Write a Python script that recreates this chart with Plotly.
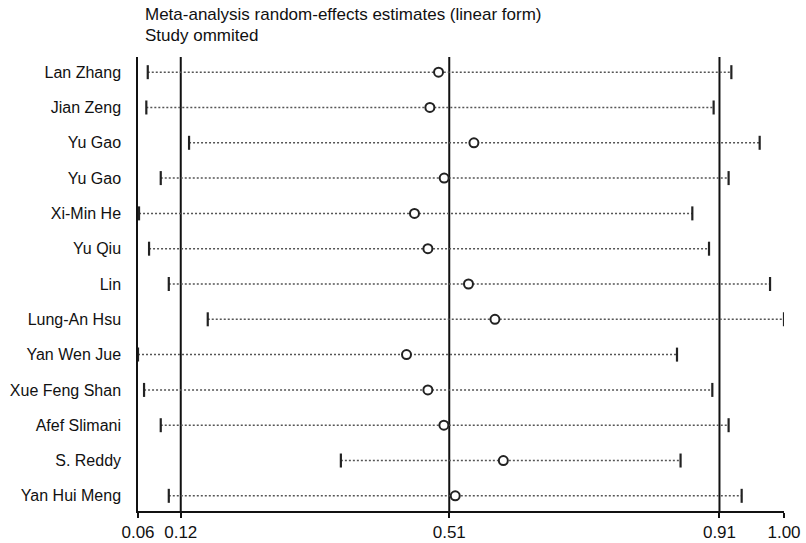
import plotly.graph_objects as go

studies = ["Lan Zhang", "Jian Zeng", "Yu Gao", "Yu Gao", "Xi-Min He", "Yu Qiu", "Lin",
           "Lung-An Hsu", "Yan Wen Jue", "Xue Feng Shan", "Afef Slimani", "S. Reddy", "Yan Hui Meng"]
lower = [0.0737, 0.0716, 0.1338, 0.0926, 0.0610, 0.0756, 0.1043,
         0.1610, 0.0595, 0.0683, 0.0926, 0.3547, 0.1043]
estimate = [0.4968, 0.4842, 0.5483, 0.5050, 0.4618, 0.4813, 0.5404,
            0.5789, 0.4502, 0.4813, 0.5046, 0.5911, 0.5211]
upper = [0.9229, 0.8971, 0.9641, 0.9189, 0.8661, 0.8904, 0.9792,
         0.9995, 0.8438, 0.8952, 0.9189, 0.8490, 0.9379]

overall_low, overall_est, overall_high = 0.1217, 0.5124, 0.9056

title_lines = ["Meta-analysis random-effects estimates (linear form)", "Study ommited"]

FONT = "Liberation Sans, Arial, Helvetica, sans-serif"
W, H = 806, 543
L, R, T, B = 138, 22, 57, 32
PH = H - T - B
PW = W - L - R

xmin, xmax = min(lower), max(upper)
tickvals = [xmin, overall_low, overall_est, overall_high, xmax]
ticktext = [f"{v:.2f}" for v in tickvals]

ypos = list(range(len(studies)))

fig = go.Figure()

# dotted CI lines
for i in ypos:
    fig.add_trace(go.Scatter(
        x=[lower[i], upper[i]], y=[i, i], mode="lines",
        line=dict(color="#555555", width=1.5, dash="2px,2px"),
        hoverinfo="skip", showlegend=False))

# caps
fig.add_trace(go.Scatter(
    x=lower + upper, y=ypos + ypos, mode="markers",
    marker=dict(symbol="line-ns", size=10, line=dict(color="#222222", width=2.2)),
    hoverinfo="skip", showlegend=False))

# estimates
fig.add_trace(go.Scatter(
    x=estimate, y=ypos, mode="markers",
    marker=dict(symbol="circle", size=9, color="white", line=dict(color="#222222", width=2)),
    showlegend=False))

# overall vertical lines
for v in [overall_low, overall_est, overall_high]:
    fig.add_shape(type="line", xref="x", yref="paper", x0=v, x1=v, y0=0, y1=1,
                  line=dict(color="#111111", width=2), layer="below")

# title lines
for txt, ypx in zip(title_lines, [14, 36]):
    fig.add_annotation(text=txt, xref="paper", yref="paper",
                       x=(143 - L) / PW, y=1 + (T - ypx) / PH,
                       xanchor="left", yanchor="middle", showarrow=False,
                       font=dict(family=FONT, size=17, color="#111111"))

fig.update_layout(
    width=W, height=H,
    margin=dict(l=L, r=R, t=T, b=B, autoexpand=False),
    paper_bgcolor="white", plot_bgcolor="white",
    font=dict(family=FONT, size=17, color="#111111"),
)
fig.update_xaxes(range=[xmin, xmax], tickvals=tickvals, ticktext=ticktext, automargin=False,
                 showgrid=False, zeroline=False, showline=True, linecolor="#111111", linewidth=1.5,
                 ticks="outside", ticklen=5, tickwidth=1.5, tickcolor="#111111",
                 tickfont=dict(family=FONT, size=17, color="#111111"))
fig.update_yaxes(range=[len(studies) - 1 + 0.43, -0.43], tickvals=ypos, ticktext=studies,
                 automargin=False,
                 showgrid=False, zeroline=False, showline=True, linecolor="#111111", linewidth=1.5,
                 ticks="", ticklabelstandoff=12,
                 tickfont=dict(family=FONT, size=16, color="#111111"))

fig.write_html("out.html", config={"displayModeBar": False},
               post_script="document.body.style.margin='0';document.body.style.overflow='hidden';")
